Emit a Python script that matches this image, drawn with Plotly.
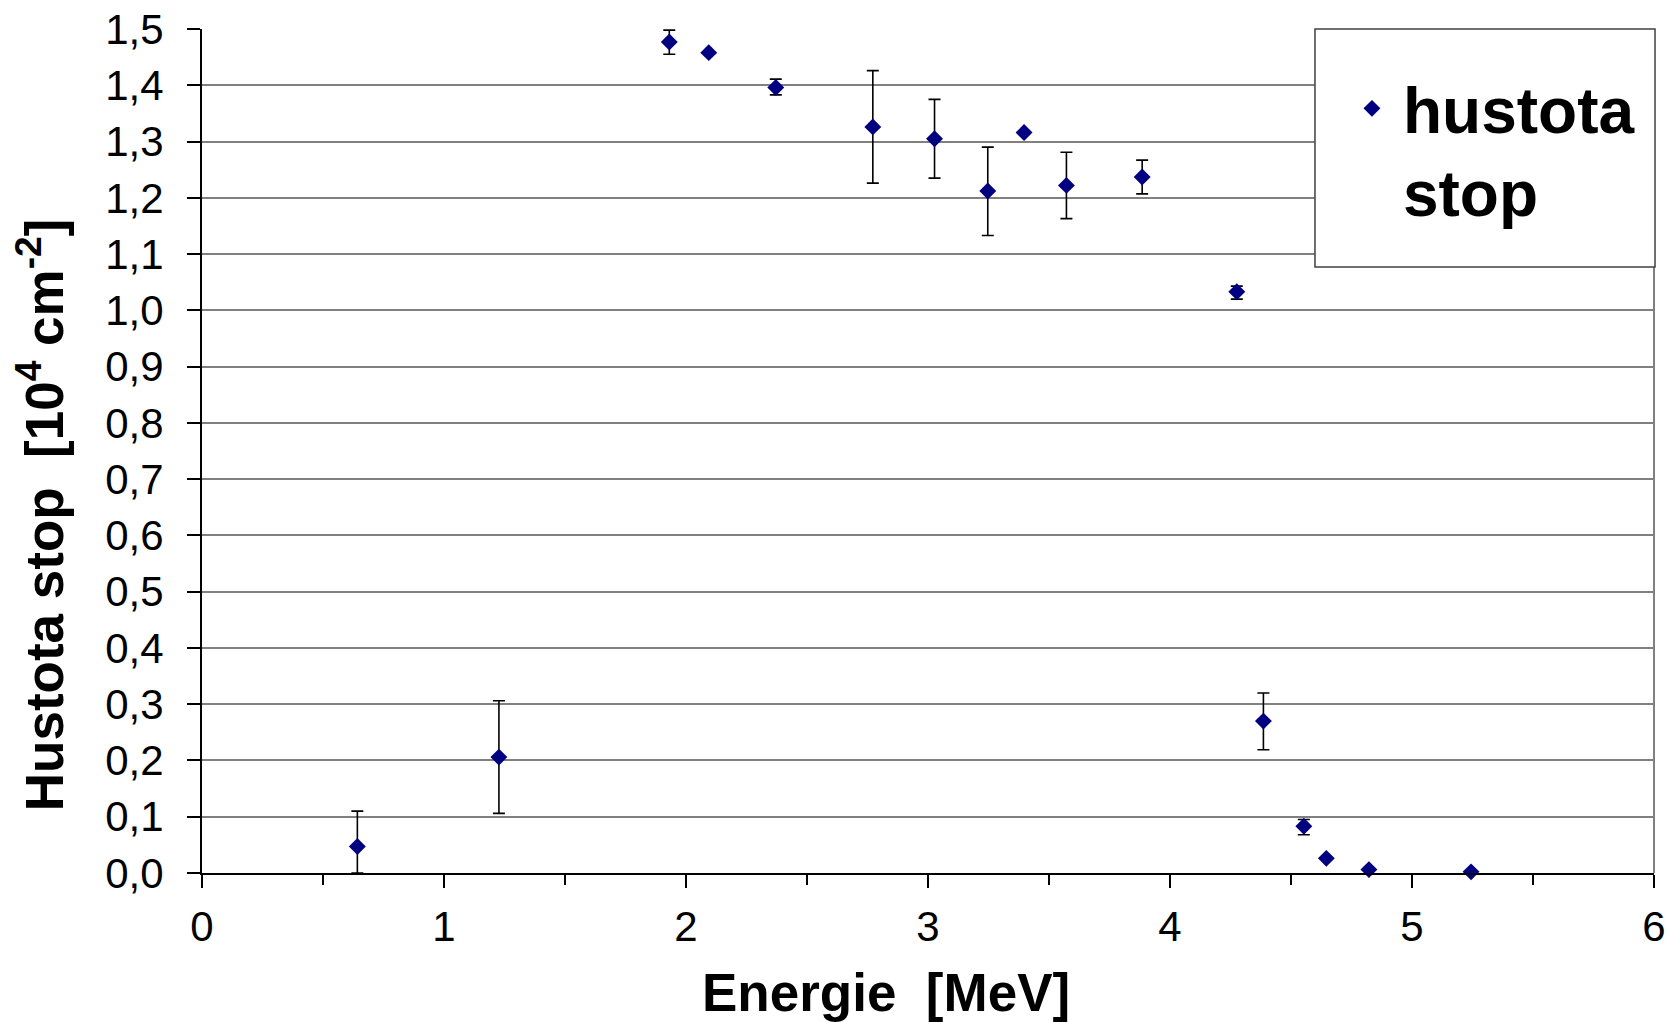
import plotly.graph_objects as go

energie = [0.642, 1.227, 1.931, 2.094, 2.371, 2.772, 3.027, 3.247, 3.397, 3.572,
           3.885, 4.276, 4.386, 4.553, 4.646, 4.822, 5.244]
hustota = [0.047, 0.206, 1.477, 1.458, 1.396, 1.326, 1.305, 1.212, 1.316, 1.222,
           1.237, 1.033, 0.270, 0.083, 0.026, 0.006, 0.002]
err_plus = [0.063, 0.100, 0.021, None, 0.015, 0.100, 0.070, 0.078, None, 0.059,
            0.030, 0.010, 0.050, 0.012, None, None, None]
err_minus = [0.047, 0.100, 0.022, None, 0.013, 0.100, 0.070, 0.079, None, 0.059,
             0.030, 0.013, 0.051, 0.015, None, None, None]
series_name = "hustota<br>stop"
x_title = "Energie\u00a0\u00a0[MeV]"
y_title = "Hustota stop\u00a0\u00a0[10<sup>4</sup> cm<sup>-2</sup>]"

FONT = "Liberation Sans, Arial, sans-serif"

fig = go.Figure()
fig.add_trace(go.Scatter(
    x=energie, y=hustota, mode="markers", name=series_name,
    marker=dict(symbol="diamond", size=13, color="#000080"),
    error_y=dict(type="data", symmetric=False, array=err_plus, arrayminus=err_minus,
                 color="black", thickness=1.6, width=6),
    cliponaxis=False,
))

fig.update_layout(
    width=1669, height=1022,
    margin=dict(l=202, r=15, t=29, b=149, autoexpand=False),
    plot_bgcolor="white", paper_bgcolor="white",
    separators=",.",
    font=dict(family=FONT, color="black"),
    showlegend=True,
    legend=dict(
        x=0.7844, y=0.963, xanchor="left", yanchor="top",
        bgcolor="rgba(0,0,0,0)", borderwidth=0,
        font=dict(size=64, family=FONT, color="black", weight="bold"),
        itemsizing="trace", itemwidth=52, valign="top",
    ),
    shapes=[
        dict(type="line", xref="paper", yref="paper", x0=1, x1=1, y0=0, y1=1,
             line=dict(color="#808080", width=2), layer="above"),
        dict(type="rect", xref="paper", yref="paper", x0=0.7665, x1=1.0007, y0=0.718, y1=1.0,
             line=dict(color="#404040", width=1.5), fillcolor="white", layer="above"),
    ],
    annotations=[
        dict(text=x_title, xref="paper", yref="paper", x=0.4708, y=-0.142,
             xanchor="center", yanchor="middle", showarrow=False,
             font=dict(size=53, family=FONT, color="black", weight="bold")),
        dict(text=y_title, xref="paper", yref="paper", x=-0.1115, y=0.424,
             xanchor="center", yanchor="middle", showarrow=False, textangle=-90,
             font=dict(size=53, family=FONT, color="black", weight="bold")),
    ],
)

fig.update_xaxes(
    range=[0, 6], dtick=1, tick0=0,
    showgrid=False, zeroline=False,
    showline=True, linecolor="black", linewidth=2,
    ticks="outside", ticklen=13, tickwidth=1.5, tickcolor="black",
    minor=dict(dtick=0.5, ticks="outside", ticklen=10, tickwidth=1.5, tickcolor="black", showgrid=False),
    tickfont=dict(size=42, family=FONT, color="black"),
    ticklabelstandoff=3,
)
fig.update_yaxes(
    range=[0, 1.5], dtick=0.1, tick0=0, tickformat=".1f",
    showgrid=True, gridcolor="#808080", gridwidth=1.5, zeroline=False,
    showline=True, linecolor="black", linewidth=2,
    ticks="outside", ticklen=13, tickwidth=1.5, tickcolor="black",
    tickfont=dict(size=42, family=FONT, color="black"),
    ticklabelstandoff=15,
)

fig.write_html("out.html")
